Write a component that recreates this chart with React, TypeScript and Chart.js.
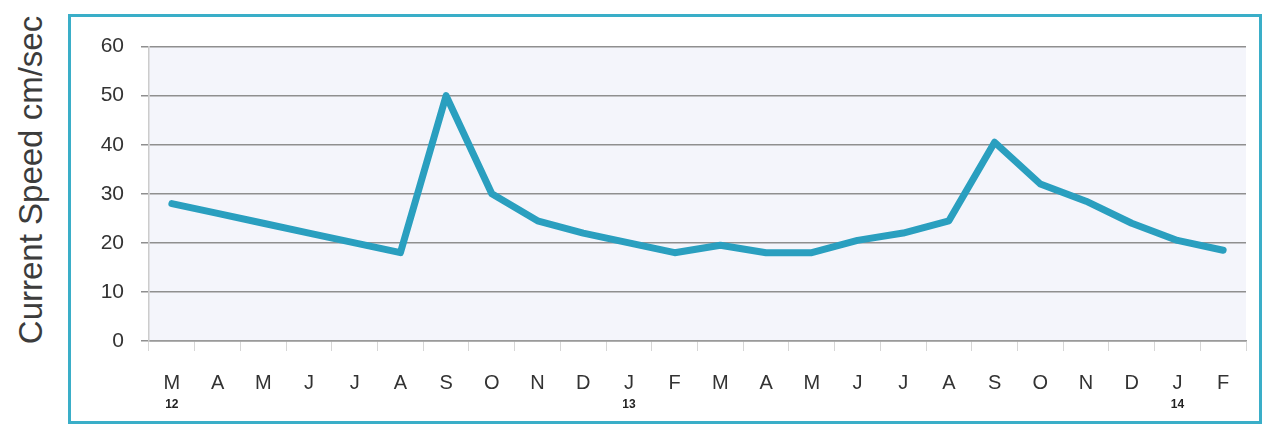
import { useEffect, useRef } from "react";
import { Chart, registerables } from "chart.js";

Chart.register(...registerables);

// Monthly mean current speed, March 2012 – February 2014
const months = ["M", "A", "M", "J", "J", "A", "S", "O", "N", "D", "J", "F", "M", "A", "M", "J", "J", "A", "S", "O", "N", "D", "J", "F"];
const speeds = [28, 26, 24, 22, 20, 18, 50, 30, 24.5, 22, 20, 18, 19.5, 18, 18, 20.5, 22, 24.5, 40.5, 32, 28.5, 24, 20.5, 18.5];
const yearIndex = [0, 10, 22];
const yearLabels = ["12", "13", "14"];
const yMin = 0;
const yMax = 60;
const yStep = 10;

const FONT = "'Liberation Sans', Arial, sans-serif";

const plotBackground = {
  id: "plotBackground",
  beforeDraw(chart: any) {
    const { ctx, chartArea } = chart;
    ctx.save();
    ctx.fillStyle = "#f4f5fb";
    ctx.fillRect(chartArea.left, chartArea.top, chartArea.right - chartArea.left, chartArea.bottom - chartArea.top);
    ctx.restore();
  },
};

const yearMarks = {
  id: "yearMarks",
  afterDraw(chart: any) {
    const { ctx } = chart;
    const xs = chart.scales.x;
    ctx.save();
    ctx.font = `bold 12px ${FONT}`;
    ctx.fillStyle = "#222";
    ctx.textAlign = "center";
    ctx.textBaseline = "middle";
    yearIndex.forEach((idx, i) => {
      ctx.fillText(yearLabels[i], xs.getPixelForValue(idx), 388);
    });
    ctx.restore();
  },
};

export default function App() {
  const canvasRef = useRef<HTMLCanvasElement | null>(null);

  useEffect(() => {
    const canvas = canvasRef.current;
    if (!canvas) return;
    const chart = new Chart(canvas, {
      type: "line",
      data: {
        labels: months,
        datasets: [
          {
            data: speeds,
            borderColor: "#2a9fbf",
            borderWidth: 7,
            pointRadius: 0,
            tension: 0,
            borderJoinStyle: "round",
            borderCapStyle: "round",
            fill: false,
          },
        ],
      },
      options: {
        responsive: false,
        animation: false,
        layout: { padding: { left: 0, right: 13, top: 27, bottom: 0 } },
        plugins: { legend: { display: false }, tooltip: { enabled: false } },
        scales: {
          x: {
            offset: true,
            grid: {
              drawOnChartArea: false,
              drawTicks: true,
              tickLength: 10,
              color: "#d6d6d6",
              offset: true,
            },
            border: { color: "#9a9a9a", width: 1.5 },
            ticks: {
              font: { family: FONT, size: 20 },
              color: "#333",
              padding: 20,
              maxRotation: 0,
              autoSkip: false,
            },
            afterFit(scale: any) {
              scale.height = 80;
            },
          },
          y: {
            min: yMin,
            max: yMax,
            grid: {
              color: "#8f8f8f",
              lineWidth: 1.5,
              tickLength: 8,
            },
            border: { color: "#cccccc", width: 1.5 },
            ticks: {
              stepSize: yStep,
              font: { family: FONT, size: 21 },
              color: "#333",
              padding: 17,
            },
            afterFit(scale: any) {
              scale.width = 78;
            },
          },
        },
      },
      plugins: [plotBackground, yearMarks],
    });
    return () => chart.destroy();
  }, []);

  return (
    <div style={{ position: "absolute", left: 0, top: 0, width: 1269, height: 426, background: "#fff", overflow: "hidden" }}>
      <div
        style={{
          position: "absolute",
          left: 31,
          top: 180,
          transform: "translate(-50%, -50%) rotate(-90deg)",
          whiteSpace: "nowrap",
          font: `33px ${FONT}`,
          color: "#3c3c3c",
        }}
      >
        Current Speed cm/sec
      </div>
      <div
        style={{
          position: "absolute",
          left: 68,
          top: 14,
          width: 1194,
          height: 410,
          boxSizing: "border-box",
          border: "3px solid #3aaec8",
          background: "#fff",
        }}
      >
        <canvas ref={canvasRef} width={1188} height={404} style={{ display: "block", width: 1188, height: 404 }} />
      </div>
    </div>
  );
}
